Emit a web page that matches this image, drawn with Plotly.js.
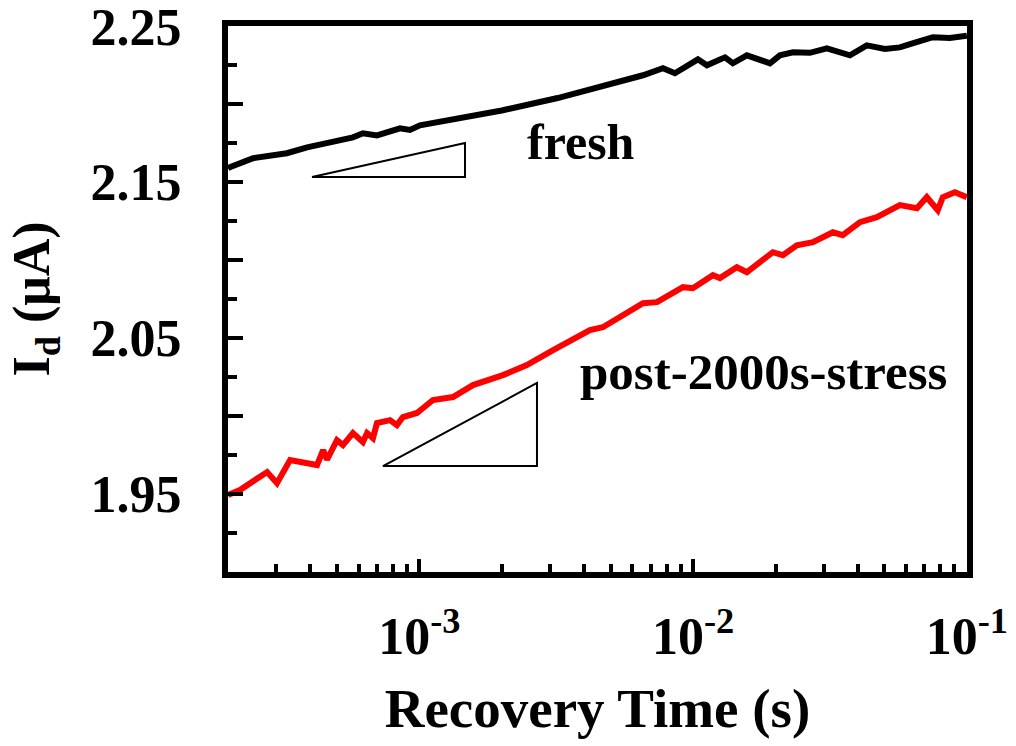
<!DOCTYPE html>
<html>
<head>
<meta charset="utf-8">
<script src="https://cdn.plot.ly/plotly-3.0.1.min.js"></script>
<style>html,body{margin:0;padding:0;background:#fff;}#chart{width:1016px;height:746px;}</style>
</head>
<body>
<div id="chart"></div>
<script>
// Recovery time (s) and drain current (uA)
const freshTime = [2.0e-4, 2.03e-4, 2.47e-4, 3.28e-4, 3.89e-4, 4.72e-4, 5.72e-4, 6.22e-4, 7.00e-4, 8.50e-4, 9.24e-4, 1.005e-3,
  2.0e-3, 3.2e-3, 4.57e-3, 5.40e-3, 6.56e-3, 7.76e-3, 8.58e-3, 1.041e-2, 1.123e-2, 1.307e-2, 1.397e-2, 1.572e-2,
  1.908e-2, 2.076e-2, 2.315e-2, 2.67e-2, 3.08e-2, 3.74e-2, 4.31e-2, 5.02e-2, 5.69e-2, 6.46e-2, 7.51e-2, 8.67e-2, 9.67e-2, 0.1];
const freshId = [2.1590, 2.1596, 2.1654, 2.1686, 2.1724, 2.1756, 2.1788, 2.1814, 2.1800, 2.1846, 2.1835, 2.1865,
  2.1960, 2.2040, 2.2109, 2.2140, 2.2186, 2.2231, 2.2199, 2.2288, 2.2250, 2.2301, 2.2263, 2.2314,
  2.2263, 2.2314, 2.2333, 2.2330, 2.2359, 2.2314, 2.2378, 2.2355, 2.2365, 2.2395, 2.2430, 2.2425, 2.2442, 2.2440];

const stressTime = [2.0e-4, 2.21e-4, 2.78e-4, 3.02e-4, 3.37e-4, 3.76e-4, 4.23e-4, 4.45e-4, 4.60e-4, 5.00e-4, 5.26e-4, 5.72e-4,
  6.22e-4, 6.44e-4, 6.77e-4, 7.00e-4, 7.81e-4, 8.28e-4, 8.71e-4, 9.80e-4, 1.121e-3, 1.327e-3, 1.570e-3, 2.02e-3,
  2.47e-3, 3.08e-3, 4.20e-3, 4.68e-3, 6.56e-3, 7.38e-3, 9.18e-3, 9.98e-3, 1.181e-2, 1.253e-2, 1.445e-2, 1.572e-2,
  1.754e-2, 1.956e-2, 2.128e-2, 2.393e-2, 2.74e-2, 3.24e-2, 3.52e-2, 4.07e-2, 4.69e-2, 5.69e-2, 6.57e-2, 7.14e-2,
  7.83e-2, 8.17e-2, 9.04e-2, 0.1];
const stressId = [1.9494, 1.9526, 1.9641, 1.9570, 1.9718, 1.9699, 1.9686, 1.9782, 1.9720, 1.9846, 1.9814, 1.9891,
  1.9833, 1.9891, 1.9859, 1.9955, 1.9974, 1.9942, 1.9994, 2.0020, 2.0103, 2.0122, 2.0199, 2.0263,
  2.0327, 2.0423, 2.0551, 2.0570, 2.0724, 2.0731, 2.0827, 2.0820, 2.0904, 2.0885, 2.0955, 2.0923,
  2.0987, 2.1051, 2.1032, 2.1096, 2.1115, 2.1179, 2.1160, 2.1244, 2.1276, 2.1353, 2.1333, 2.1404,
  2.1321, 2.1404, 2.1436, 2.1404];

const xMajorTicks = [1e-3, 1e-2, 1e-1];
const xMajorLabels = ['10<sup>-3</sup>', '10<sup>-2</sup>', '10<sup>-1</sup>'];
const xMinorTicks = [3e-4, 4e-4, 5e-4, 6e-4, 7e-4, 8e-4, 9e-4, 2e-3, 3e-3, 4e-3, 5e-3, 6e-3, 7e-3, 8e-3, 9e-3,
  2e-2, 3e-2, 4e-2, 5e-2, 6e-2, 7e-2, 8e-2, 9e-2];
const yMajorTicks = [1.9, 1.95, 2.0, 2.05, 2.1, 2.15, 2.2, 2.25];
const yMajorLabels = ['', '1.95', '', '2.05', '', '2.15', '', '2.25'];
const yMinorTicks = [1.925, 1.975, 2.025, 2.075, 2.125, 2.175, 2.225];

const labelFresh = 'fresh';
const labelStress = 'post-2000s-stress';

const FONT = 'Liberation Serif, Times New Roman, serif';

const traces = [
  {x: freshTime, y: freshId, mode: 'lines', line: {color: '#000000', width: 6}, name: labelFresh, showlegend: false},
  {x: stressTime, y: stressId, mode: 'lines', line: {color: '#ff0000', width: 6}, name: labelStress, showlegend: false}
];

const layout = {
  width: 1016, height: 746,
  margin: {l: 228, r: 49, t: 26, b: 174},
  paper_bgcolor: '#ffffff', plot_bgcolor: '#ffffff',
  showlegend: false,
  xaxis: {
    type: 'log', range: [-3.699, -0.9995],
    showgrid: false, zeroline: false,
    showline: true, linewidth: 6, linecolor: '#000', mirror: true,
    tickmode: 'array', tickvals: xMajorTicks, ticktext: xMajorLabels,
    ticks: 'inside', ticklen: 13, tickwidth: 4, tickcolor: '#000',
    minor: {tickmode: 'array', tickvals: xMinorTicks, ticks: 'inside', ticklen: 8, tickwidth: 4, tickcolor: '#000', showgrid: false},
    tickfont: {family: FONT, size: 52, color: '#000', weight: 'bold'},
    ticklabelstandoff: 14,
    ticklabeloverflow: 'allow',
    title: {text: 'Recovery Time (s)', font: {family: FONT, size: 55, color: '#000', weight: 'bold'}, standoff: 26}
  },
  yaxis: {
    range: [1.9, 2.2502],
    showgrid: false, zeroline: false,
    showline: true, linewidth: 6, linecolor: '#000', mirror: true,
    tickmode: 'array', tickvals: yMajorTicks, ticktext: yMajorLabels,
    ticks: 'inside', ticklen: 15, tickwidth: 4, tickcolor: '#000',
    minor: {tickmode: 'array', tickvals: yMinorTicks, ticks: 'inside', ticklen: 9, tickwidth: 4, tickcolor: '#000', showgrid: false},
    tickfont: {family: FONT, size: 52, color: '#000', weight: 'bold'},
    ticklabelstandoff: 30,
    ticklabeloverflow: 'allow',
    title: {text: 'I<sub>d</sub> (μA)', font: {family: FONT, size: 52, color: '#000', weight: 'bold'}, standoff: 26}
  },
  shapes: [
    {type: 'path', xref: 'paper', yref: 'paper', path: 'M 0.1137 0.7234 L 0.3207 0.7234 L 0.3207 0.7857 Z', line: {color: '#000', width: 2}, fillcolor: 'rgba(0,0,0,0)'},
    {type: 'path', xref: 'paper', yref: 'paper', path: 'M 0.2097 0.1941 L 0.4181 0.1941 L 0.4181 0.3462 Z', line: {color: '#000', width: 2}, fillcolor: 'rgba(0,0,0,0)'}
  ],
  annotations: [
    {xref: 'paper', yref: 'paper', x: 0.4777, y: 0.7875, text: labelFresh, showarrow: false, xanchor: 'center', yanchor: 'middle',
     font: {family: FONT, size: 50, color: '#000', weight: 'bold'}},
    {xref: 'paper', yref: 'paper', x: 0.724, y: 0.3663, text: labelStress, showarrow: false, xanchor: 'center', yanchor: 'middle',
     font: {family: FONT, size: 51, color: '#000', weight: 'bold'}}
  ]
};

Plotly.newPlot('chart', traces, layout, {displayModeBar: false, staticPlot: true});
</script>
</body>
</html>
